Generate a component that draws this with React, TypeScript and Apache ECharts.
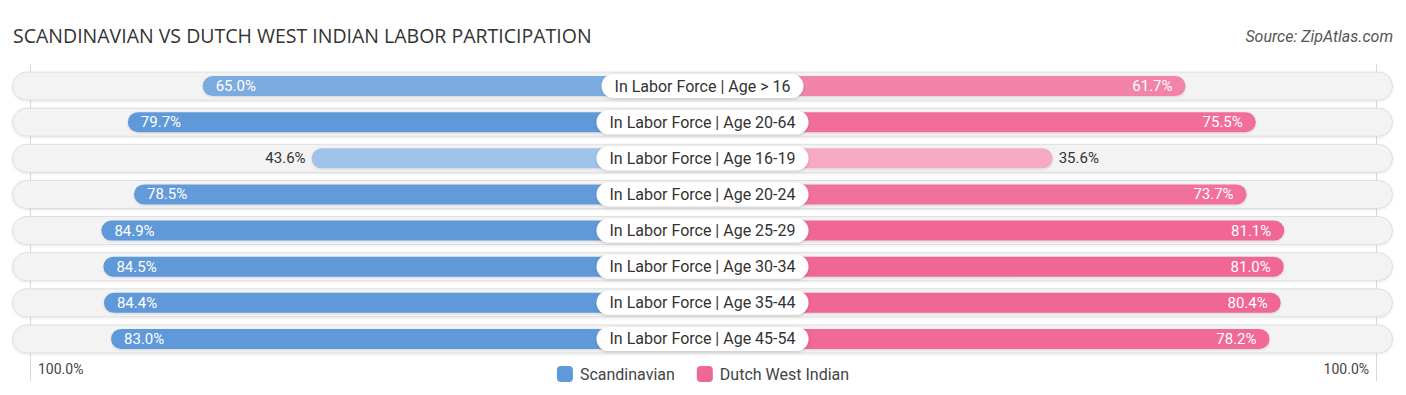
import React, { useEffect, useRef } from "react";
import * as echarts from "echarts";

const categories = [
  "In Labor Force | Age > 16",
  "In Labor Force | Age 20-64",
  "In Labor Force | Age 16-19",
  "In Labor Force | Age 20-24",
  "In Labor Force | Age 25-29",
  "In Labor Force | Age 30-34",
  "In Labor Force | Age 35-44",
  "In Labor Force | Age 45-54",
];
const scandinavian = [65.0, 79.7, 43.6, 78.5, 84.9, 84.5, 84.4, 83.0];
const dutchWestIndian = [61.7, 75.5, 35.6, 73.7, 81.1, 81.0, 80.4, 78.2];
const seriesNames = ["Scandinavian", "Dutch West Indian"];
const axisLabels = ["100.0%", "100.0%"];

const OFFSET = 33.2; // half-gap (in % units) reserved for the centre label
const HALF = 135.66; // axis half range

function mix(a: number[], b: number[], t: number) {
  const c = a.map((x, i) => Math.round(x + (b[i] - x) * t));
  return `rgb(${c[0]},${c[1]},${c[2]})`;
}
const blueLight = [172, 202, 236];
const blueDark = [96, 153, 217];
const pinkLight = [247, 170, 196];
const pinkDark = [240, 102, 149];
function tOf(v: number) {
  return Math.max(0, Math.min(1, (v - 38) / (80 - 38)));
}

export default function App() {
  const ref = useRef<HTMLDivElement>(null);
  useEffect(() => {
    if (!ref.current) return;
    const chart = echarts.init(ref.current, undefined, { renderer: "svg" });
    const font = "Roboto";
    const leftData = scandinavian.map((v) => {
      const inside = v >= 50;
      return {
        value: -(v + OFFSET),
        raw: v,
        itemStyle: { color: mix(blueLight, blueDark, tOf(v)) },
        label: inside
          ? { position: "insideLeft", color: "#fff", distance: 13 }
          : { position: "left", color: "#333", distance: 6 },
      };
    });
    const rightData = dutchWestIndian.map((v) => {
      const inside = v >= 50;
      return {
        value: v + OFFSET,
        raw: v,
        itemStyle: { color: mix(pinkLight, pinkDark, tOf(v)) },
        label: inside
          ? { position: "insideRight", color: "#fff", distance: 13 }
          : { position: "right", color: "#333", distance: 6 },
      };
    });
    const option: any = {
      animation: false,
      title: [
        {
          text: "SCANDINAVIAN VS DUTCH WEST INDIAN LABOR PARTICIPATION",
          left: 8,
          top: 20,
          textStyle: { fontFamily: "Open Sans", fontSize: 19.5, fontWeight: "normal", color: "#333" },
        },
        {
          text: "Source: ZipAtlas.com",
          right: 8,
          top: 23,
          textStyle: { fontFamily: font, fontSize: 16, fontStyle: "italic", fontWeight: "normal", color: "#555" },
        },
      ],
      legend: {
        data: seriesNames,
        left: "center",
        top: 361,
        itemWidth: 16,
        itemHeight: 16,
        itemGap: 22,
        icon: "roundRect",
        textStyle: { fontFamily: font, fontSize: 16, color: "#444", padding: [0, 0, 0, 2] },
      },
      grid: [{ left: 12, right: 13, top: 68, bottom: 38 }],
      xAxis: [
        { type: "value", min: -HALF, max: HALF, show: false },
        { type: "value", min: 0, max: 1, show: false },
      ],
      yAxis: [
        { type: "category", data: categories, inverse: true, show: false },
        { type: "category", data: categories, inverse: true, show: false },
      ],
      graphic: [
        { type: "line", shape: { x1: 30.5, y1: 64, x2: 30.5, y2: 381 }, style: { stroke: "#d8d8d8", lineWidth: 1 }, z: -1 },
        { type: "line", shape: { x1: 1376.5, y1: 64, x2: 1376.5, y2: 381 }, style: { stroke: "#d8d8d8", lineWidth: 1 }, z: -1 },
        { type: "text", left: 38, top: 362, style: { text: axisLabels[0], font: `14px ${font}`, fill: "#444" } },
        { type: "text", right: 37, top: 362, style: { text: axisLabels[1], font: `14px ${font}`, fill: "#444" } },
      ],
      series: [
        {
          type: "bar",
          xAxisIndex: 1,
          yAxisIndex: 1,
          barWidth: 29,
          silent: true,
          data: categories.map(() => 1),
          itemStyle: {
            color: "#f3f3f3",
            borderColor: "#dedede",
            borderWidth: 1,
            borderRadius: 14.5,
            shadowColor: "rgba(0,0,0,0.10)",
            shadowBlur: 2,
            shadowOffsetY: 1,
          },
          z: 1,
        },
        {
          name: seriesNames[0],
          type: "bar",
          xAxisIndex: 0,
          yAxisIndex: 0,
          barWidth: 20,
          barGap: "-100%",
          color: "rgb(96,153,217)",
          itemStyle: { borderRadius: [10, 0, 0, 10], shadowColor: "rgba(0,0,0,0.12)", shadowBlur: 2, shadowOffsetY: 1 },
          label: {
            show: true,
            fontFamily: font,
            fontSize: 15,
            formatter: (p: any) => `${p.data.raw.toFixed(1)}%`,
          },
          data: leftData,
          z: 2,
        },
        {
          name: seriesNames[1],
          type: "bar",
          xAxisIndex: 0,
          yAxisIndex: 0,
          barWidth: 20,
          barGap: "-100%",
          color: "rgb(240,102,149)",
          itemStyle: { borderRadius: [0, 10, 10, 0], shadowColor: "rgba(0,0,0,0.12)", shadowBlur: 2, shadowOffsetY: 1 },
          label: {
            show: true,
            fontFamily: font,
            fontSize: 15,
            formatter: (p: any) => `${p.data.raw.toFixed(1)}%`,
          },
          data: rightData,
          z: 2,
        },
        {
          type: "custom",
          xAxisIndex: 0,
          yAxisIndex: 0,
          silent: true,
          data: categories.map((c, i) => [0, i]),
          renderItem: (params: any, api: any) => {
            const pt = api.coord([api.value(0), api.value(1)]);
            return {
              type: "text",
              x: pt[0],
              y: pt[1],
              z2: 100,
              style: {
                text: categories[params.dataIndex],
                font: `16px ${font}`,
                fill: "#333",
                align: "center",
                verticalAlign: "middle",
                backgroundColor: "#ffffff",
                padding: [4, 13],
                lineHeight: 16,
                borderRadius: 12,
                shadowColor: "rgba(0,0,0,0.18)",
                shadowBlur: 3,
                shadowOffsetY: 1,
              },
            };
          },
          z: 10,
        },
      ],
    };
    chart.setOption(option);
    return () => chart.dispose();
  }, []);
  return <div ref={ref} style={{ width: 1406, height: 395, margin: -8 }} />;
}
